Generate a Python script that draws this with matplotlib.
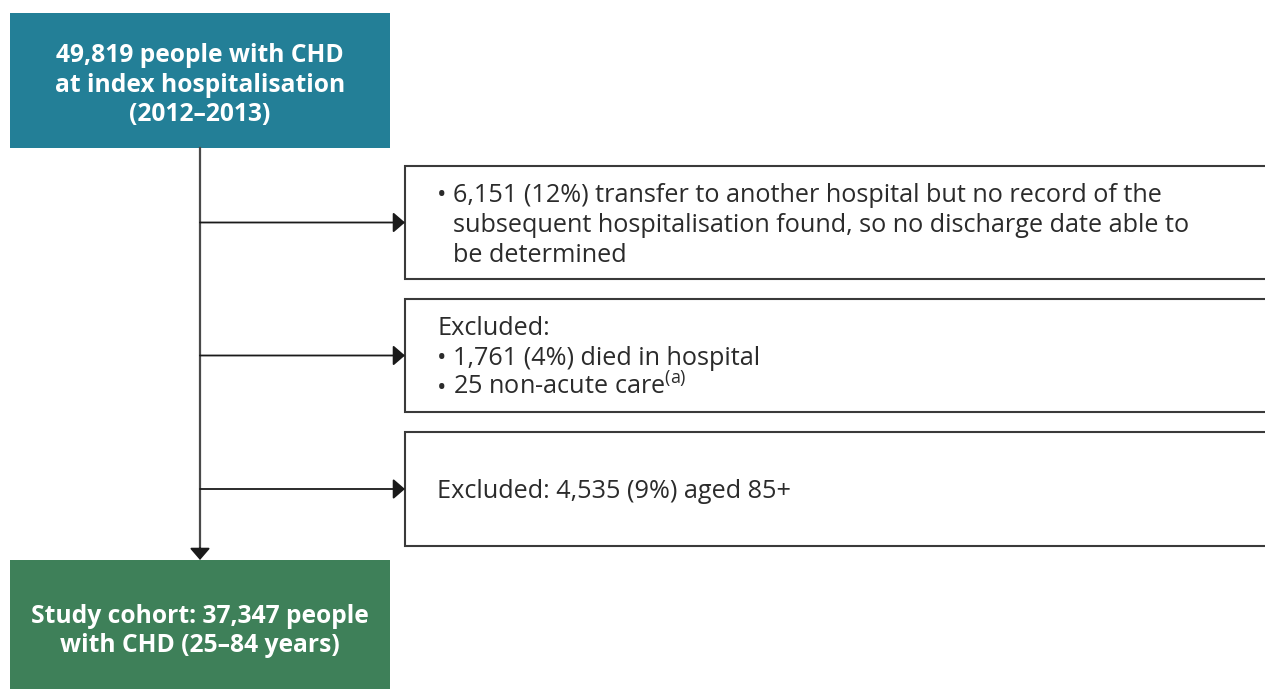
import matplotlib.pyplot as plt
from matplotlib.patches import Rectangle

plt.rcParams["font.family"] = ["Open Sans", "DejaVu Sans"]
plt.rcParams["mathtext.fontset"] = "custom"
plt.rcParams["mathtext.rm"] = "Open Sans"
plt.rcParams["mathtext.it"] = "Open Sans:italic"
plt.rcParams["mathtext.bf"] = "Open Sans:bold"

# flowchart content
start_lines = ["49,819 people with CHD", "at index hospitalisation", "(2012\u20132013)"]
end_lines = ["Study cohort: 37,347 people", "with CHD (25\u201384 years)"]
# "* " marks a bullet line, "  " a continuation line under a bullet
exclusion_lines = [
    ["* 6,151 (12%) transfer to another hospital but no record of the",
     "  subsequent hospitalisation found, so no discharge date able to",
     "  be determined"],
    ["Excluded:",
     "* 1,761 (4%) died in hospital",
     "* 25 non-acute care$^{\\mathrm{(a)}}$"],
    ["Excluded: 4,535 (9%) aged 85+"],
]

# layout (pixels)
main_x0, main_x1 = 10, 390
start_y0, start_y1 = 13, 148
end_y0, end_y1 = 560, 700
side_x0, side_x1 = 405, 1275
side_boxes = [(166, 279), (299, 412), (432, 546)]
spine_x = 200
text_x, indent_x = 437, 453
line_gap = 30

teal = "#237f97"
green = "#3e8059"
text_col = "#2b2b2b"
edge_col = "#3a3a3a"
head = "-|>,head_length=0.72,head_width=0.62"

fig = plt.figure(figsize=(12.65, 6.89), dpi=100)
ax = fig.add_axes([0, 0, 1, 1])
ax.set_xlim(0, 1265)
ax.set_ylim(689, 0)
ax.axis("off")


def centred_block(lines, y_mid, gap, **kw):
    n = len(lines)
    for i, line in enumerate(lines):
        yb = y_mid + (i - (n - 1) / 2) * gap
        ax.text((main_x0 + main_x1) / 2, yb, line, ha="center", va="baseline", **kw)


ax.add_patch(Rectangle((main_x0, start_y0), main_x1 - main_x0, start_y1 - start_y0,
                       facecolor=teal, edgecolor="none"))
centred_block(start_lines, 91.5, 29.5, color="white", fontsize=17.7, fontweight="bold")

ax.add_patch(Rectangle((main_x0, end_y0), main_x1 - main_x0, end_y1 - end_y0,
                       facecolor=green, edgecolor="none"))
centred_block(end_lines, 637.5, 29, color="white", fontsize=17.7, fontweight="bold")

# spine with arrow into study cohort
ax.plot([spine_x, spine_x], [start_y1, 552], color="#4a4a4a", lw=1.6)
ax.annotate("", xy=(spine_x, end_y0), xytext=(spine_x, 548),
            arrowprops=dict(arrowstyle=head, color="#1a1a1a", lw=1.3,
                            shrinkA=0, shrinkB=0))

for (y0, y1), lines in zip(side_boxes, exclusion_lines):
    ax.add_patch(Rectangle((side_x0, y0), side_x1 - side_x0, y1 - y0,
                           facecolor="white", edgecolor=edge_col, lw=1.5))
    ym = (y0 + y1) / 2
    ax.annotate("", xy=(side_x0, ym), xytext=(spine_x, ym),
                arrowprops=dict(arrowstyle=head, color="#1a1a1a", lw=1.3,
                                shrinkA=0, shrinkB=0))
    n = len(lines)
    for i, line in enumerate(lines):
        yb = ym + 9.5 + (i - (n - 1) / 2) * line_gap
        if line.startswith("* "):
            ax.text(text_x, yb, "\u2022", ha="left", va="baseline", color=text_col,
                    fontsize=18.2)
            ax.text(indent_x, yb, line[2:], ha="left", va="baseline", color=text_col,
                    fontsize=18.2)
        elif line.startswith("  "):
            ax.text(indent_x, yb, line[2:], ha="left", va="baseline", color=text_col,
                    fontsize=18.2)
        else:
            ax.text(text_x, yb, line, ha="left", va="baseline", color=text_col,
                    fontsize=18.2)

fig.savefig("out.png", dpi=100)
